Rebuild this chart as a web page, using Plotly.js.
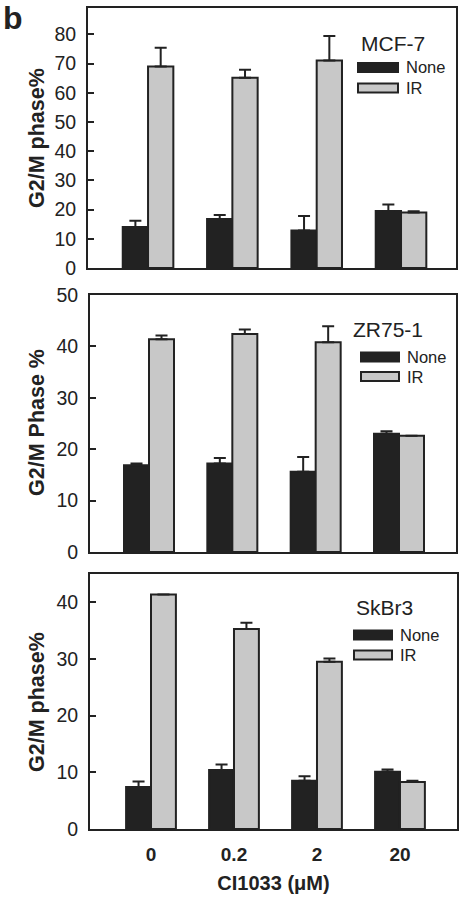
<!DOCTYPE html>
<html><head><meta charset="utf-8">
<script src="https://cdn.plot.ly/plotly-3.0.1.min.js"></script>
<style>html,body{margin:0;padding:0;background:#fff}#chart{width:463px;height:900px}</style>
</head><body><div id="chart"></div>
<script>
// ---- data ----
const doses = ["0", "0.2", "2", "20"];
const xAxisTitle = "CI1033 (\u03bcM)";
const seriesNames = ["None", "IR"];

const mcf7Name = "MCF-7";
const mcf7None = [14.0, 16.8, 12.8, 19.5];
const mcf7NoneErr = [2.2, 1.3, 5.0, 2.2];
const mcf7IR = [69.0, 65.1, 71.0, 19.0];
const mcf7IRErr = [6.4, 2.8, 8.4, 0.4];

const zr75Name = "ZR75-1";
const zr75None = [16.9, 17.2, 15.6, 23.0];
const zr75NoneErr = [0.3, 1.1, 2.9, 0.5];
const zr75IR = [41.4, 42.4, 40.8, 22.6];
const zr75IRErr = [0.7, 0.9, 3.1, 0.0];

const skbr3Name = "SkBr3";
const skbr3None = [7.4, 10.4, 8.5, 10.1];
const skbr3NoneErr = [1.0, 1.0, 0.8, 0.4];
const skbr3IR = [41.4, 35.3, 29.5, 8.3];
const skbr3IRErr = [0.0, 1.1, 0.6, 0.2];

const yTitles = ["G2/M phase%", "G2/M Phase %", "G2/M phase%"];
const noLower = [0, 0, 0, 0];

// ---- helpers ----
const W = 463, H = 900;
const px = x => x / W;
const py = y => 1 - y / H;
const DARK = "#222222", GREY = "#c8c8c8";
const FONT = "Liberation Sans, Arial, sans-serif";
const xIdx = doses.map((d, i) => i);

function mkBar(vals, errs, color, xa, ya, name) {
  return {
    type: "bar", x: xIdx, y: vals, name: name, xaxis: xa, yaxis: ya,
    marker: {color: color, line: {color: DARK, width: 2}},
    error_y: {type: "data", symmetric: false, array: errs, arrayminus: noLower,
              color: DARK, thickness: 2, width: 6},
    showlegend: false, hoverinfo: "y"
  };
}

const data = [
  mkBar(mcf7None, mcf7NoneErr, DARK, "x", "y", seriesNames[0]),
  mkBar(mcf7IR, mcf7IRErr, GREY, "x", "y", seriesNames[1]),
  mkBar(zr75None, zr75NoneErr, DARK, "x2", "y2", seriesNames[0]),
  mkBar(zr75IR, zr75IRErr, GREY, "x2", "y2", seriesNames[1]),
  mkBar(skbr3None, skbr3NoneErr, DARK, "x3", "y3", seriesNames[0]),
  mkBar(skbr3IR, skbr3IRErr, GREY, "x3", "y3", seriesNames[1])
];

function xax(dom, range, anchor, showLabels) {
  return {
    domain: dom, range: range, anchor: anchor,
    showline: true, mirror: true, linecolor: DARK, linewidth: 2,
    showgrid: false, zeroline: false, ticks: "",
    tickmode: "array", tickvals: xIdx, ticktext: doses,
    showticklabels: showLabels,
    tickfont: {family: FONT, size: 19, color: DARK, weight: "bold"},
    ticklabelstandoff: 7
  };
}
function yax(dom, range, anchor) {
  return {
    domain: dom, range: range, anchor: anchor,
    showline: true, mirror: true, linecolor: DARK, linewidth: 2,
    showgrid: false, zeroline: false,
    ticks: "inside", ticklen: 6, tickwidth: 2, tickcolor: DARK,
    tickmode: "linear", tick0: 0, dtick: 10,
    tickfont: {family: FONT, size: 19.5, color: DARK},
    ticklabelstandoff: 6
  };
}

const layout = {
  width: W, height: H,
  margin: {l: 0, r: 0, t: 0, b: 0},
  paper_bgcolor: "#fff", plot_bgcolor: "#fff",
  barmode: "group", bargap: 0.4, bargroupgap: 0,
  font: {family: FONT, color: DARK},
  xaxis: xax([px(88), px(456)], [-0.712, 3.652], "y", false),
  yaxis: yax([py(268), py(8)], [0, 89], "x"),
  xaxis2: xax([px(90), px(456)], [-0.708, 3.684], "y2", false),
  yaxis2: yax([py(552), py(295)], [0, 50], "x2"),
  xaxis3: Object.assign(xax([px(90), px(457)], [-0.735, 3.687], "y3", true), {
    title: {text: xAxisTitle, font: {family: FONT, size: 20, color: DARK, weight: "bold"}, standoff: 12}
  }),
  yaxis3: yax([py(829), py(574)], [0, 45], "x3"),
  annotations: [],
  shapes: []
};

// panel letter
layout.annotations.push({xref: "paper", yref: "paper", x: px(1), y: py(18), xanchor: "left", yanchor: "middle",
  text: "<b>b</b>", showarrow: false, font: {family: FONT, size: 32, color: DARK}});

// y-axis titles
const yTitleY = [138, 423, 702];
yTitles.forEach((t, i) => {
  layout.annotations.push({xref: "paper", yref: "paper", x: px(37), y: py(yTitleY[i]),
    xanchor: "center", yanchor: "middle", textangle: -90, showarrow: false,
    text: "<b>" + t + "</b>", font: {family: FONT, size: 21.5, color: DARK}});
});

// legends (panel name + swatches)
const legends = [
  {name: mcf7Name, nameX: 359, nameY: 44, swX: 358, swW: 40, noneY: 67.5, irY: 88, textX: 404},
  {name: zr75Name, nameX: 351, nameY: 329, swX: 361, swW: 38, noneY: 357, irY: 376.5, textX: 405},
  {name: skbr3Name, nameX: 354, nameY: 607, swX: 354, swW: 38, noneY: 635, irY: 655, textX: 398}
];
legends.forEach(L => {
  layout.annotations.push({xref: "paper", yref: "paper", x: px(L.nameX), y: py(L.nameY),
    xanchor: "left", yanchor: "middle", showarrow: false, text: L.name,
    font: {family: FONT, size: 21, color: DARK}});
  [[seriesNames[0], L.noneY, DARK], [seriesNames[1], L.irY, GREY]].forEach(([lab, cy, col]) => {
    layout.shapes.push({type: "rect", xref: "paper", yref: "paper",
      x0: px(L.swX), x1: px(L.swX + L.swW), y0: py(cy + 4.5), y1: py(cy - 4.5),
      fillcolor: col, line: {color: DARK, width: 2}});
    layout.annotations.push({xref: "paper", yref: "paper", x: px(L.textX), y: py(cy),
      xanchor: "left", yanchor: "middle", showarrow: false, text: lab,
      font: {family: FONT, size: 16.5, color: DARK}});
  });
});

Plotly.newPlot("chart", data, layout, {staticPlot: true, displayModeBar: false});
</script>
</body></html>
